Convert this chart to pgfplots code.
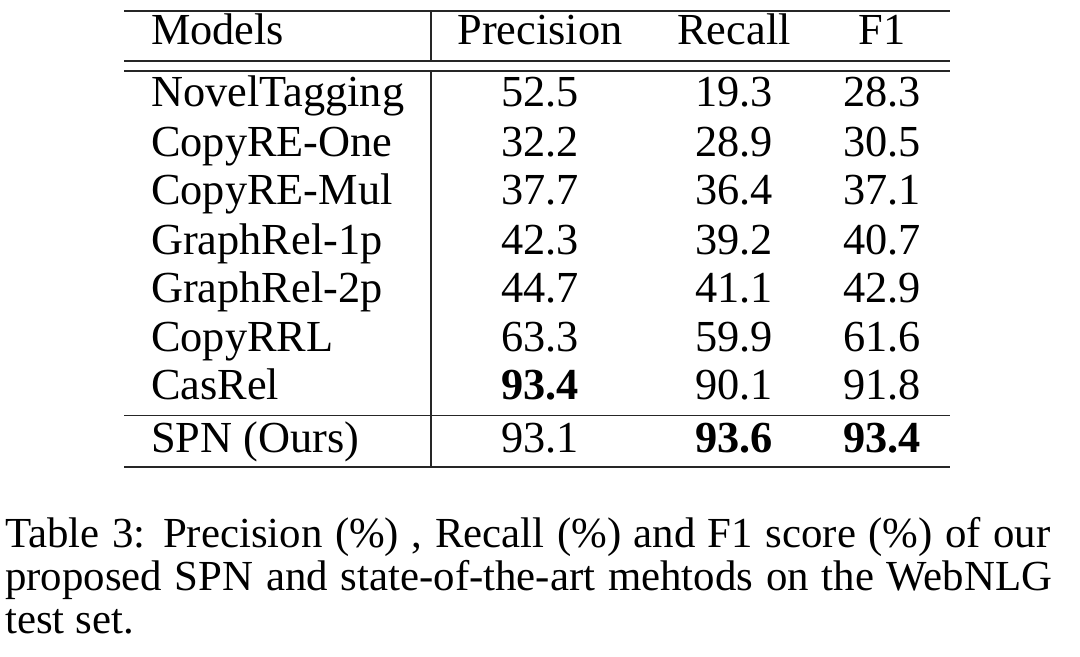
\documentclass[border=0pt]{standalone}
\usepackage{fontspec}
\setmainfont{Liberation Serif}
\usepackage{pgfplots}
\usepackage{pgfplotstable}
\pgfplotsset{compat=1.18}

\pgfplotstableread{
y model P R F
45 Models Precision Recall F1
106 NovelTagging 52.5 19.3 28.3
156 CopyRE-One 32.2 28.9 30.5
204 CopyRE-Mul 37.7 36.4 37.1
254 GraphRel-1p 42.3 39.2 40.7
302 GraphRel-2p 44.7 41.1 42.9
351 CopyRRL 63.3 59.9 61.6
399 CasRel \textbf{93.4} 90.1 91.8
452 {SPN (Ours)} 93.1 \textbf{93.6} \textbf{93.4}
}\datatable

\begin{document}
\begin{tikzpicture}
\begin{axis}[
  scale only axis, width=1080bp, height=656bp,
  xmin=0, xmax=1080, ymin=0, ymax=656, y dir=reverse,
  hide axis, clip=false,
  every node near coord/.append style={inner sep=0pt, font=\fontsize{44.5}{52}\selectfont, text=black},
]
\path (axis cs:0,0) rectangle (axis cs:1080,656);
% rules
\draw[line width=1.4bp, black!85] (axis cs:124,11) -- (axis cs:950,11);
\draw[line width=1.2bp, black!85] (axis cs:124,61) -- (axis cs:950,61);
\draw[line width=1.2bp, black!85] (axis cs:124,71) -- (axis cs:950,71);
\draw[line width=1.2bp, black!85] (axis cs:124,415.5) -- (axis cs:950,415.5);
\draw[line width=1.4bp, black!85] (axis cs:124,467) -- (axis cs:950,467);
\draw[line width=1.2bp, black!85] (axis cs:431,11) -- (axis cs:431,61);
\draw[line width=1.2bp, black!85] (axis cs:431,71) -- (axis cs:431,467);
% table cells
\addplot[draw=none, mark=none, nodes near coords, point meta=explicit symbolic,
  every node near coord/.append style={anchor=base west}]
  table[x expr=151, y=y, meta=model] {\datatable};
\addplot[draw=none, mark=none, nodes near coords, point meta=explicit symbolic,
  every node near coord/.append style={anchor=base}]
  table[x expr=540, y=y, meta=P] {\datatable};
\addplot[draw=none, mark=none, nodes near coords, point meta=explicit symbolic,
  every node near coord/.append style={anchor=base}]
  table[x expr=734, y=y, meta=R] {\datatable};
\addplot[draw=none, mark=none, nodes near coords, point meta=explicit symbolic,
  every node near coord/.append style={anchor=base}]
  table[x expr=882, y=y, meta=F] {\datatable};
% caption
\node[anchor=base west, inner sep=0pt, font=\fontsize{43}{50}\selectfont] at (axis cs:5,547)
  {\makebox[1045bp][s]{Table 3: Precision (\%) , Recall (\%) and F1 score (\%) of our}};
\node[anchor=base west, inner sep=0pt, font=\fontsize{43}{50}\selectfont] at (axis cs:5,590)
  {\makebox[1047bp][s]{proposed SPN and state-of-the-art mehtods on the WebNLG}};
\node[anchor=base west, inner sep=0pt, font=\fontsize{43}{50}\selectfont] at (axis cs:5,633)
  {test set.};
\end{axis}
\end{tikzpicture}
\end{document}
